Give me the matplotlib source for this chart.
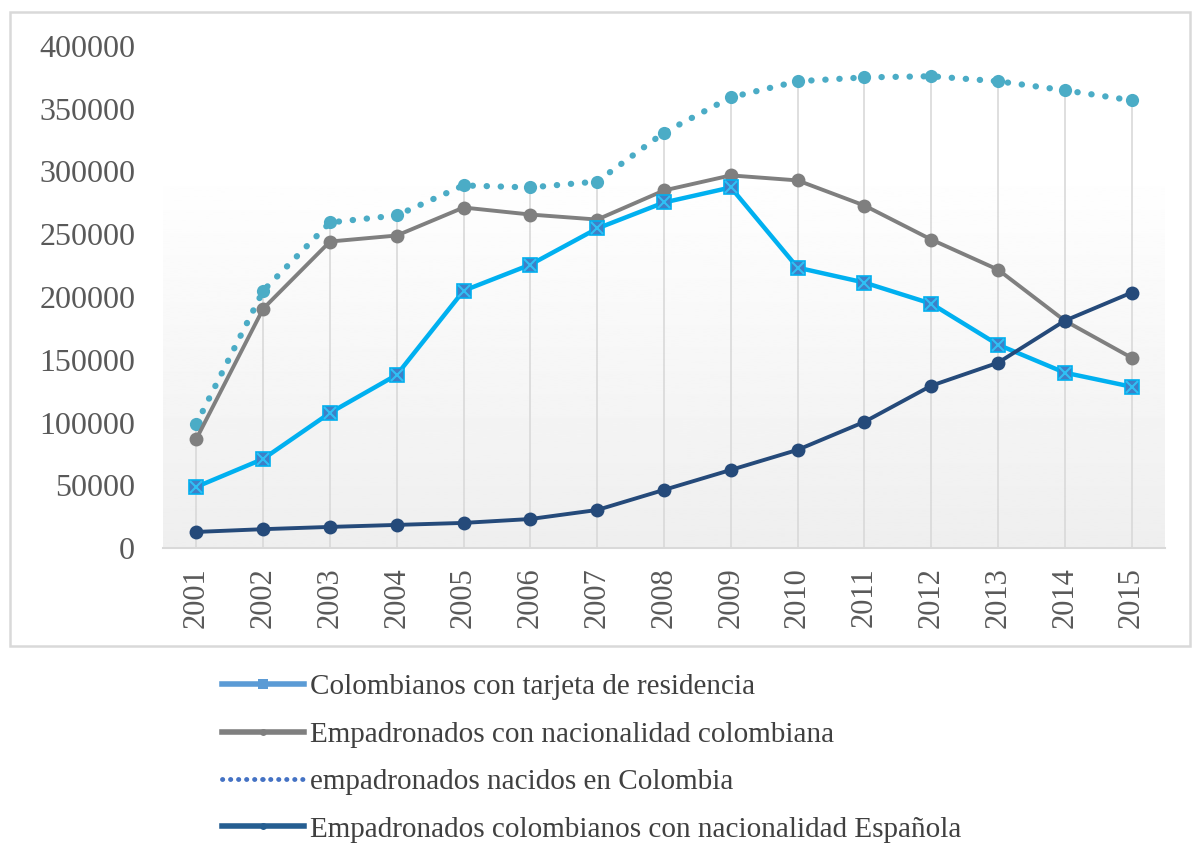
import matplotlib
matplotlib.use('Agg')
import matplotlib.pyplot as plt
import numpy as np
from matplotlib.lines import Line2D
from matplotlib.patches import Rectangle

plt.rcParams['font.family'] = ['Liberation Serif', 'DejaVu Serif']

# ------------------------------------------------------------------
years = ['2001', '2002', '2003', '2004', '2005', '2006', '2007', '2008',
         '2009', '2010', '2011', '2012', '2013', '2014', '2015']

tarjeta = [48700, 71000, 107700, 138000, 205000, 225800, 254600, 275300,
           287300, 223400, 211500, 194700, 162000, 139700, 128500]
nac_colombiana = [87000, 190700, 244200, 249000, 271300, 265700, 261700, 284900,
                  296900, 292900, 272900, 245800, 221800, 181100, 151600]
nacidos_colombia = [99000, 205000, 259400, 265000, 288900, 287300, 292000, 331000,
                    359100, 371900, 375000, 375900, 371900, 364700, 356700]
nac_espanola = [12800, 15000, 16800, 18400, 20000, 23100, 30300, 46300,
                62200, 78200, 100500, 129300, 147600, 181100, 203500]

labels = ['Colombianos con tarjeta de residencia',
          'Empadronados con nacionalidad colombiana',
          'empadronados nacidos en Colombia',
          'Empadronados colombianos con nacionalidad Española']

y_ticks = [0, 50000, 100000, 150000, 200000, 250000, 300000, 350000, 400000]

# ------------------------------------------------------------------
fig = plt.figure(figsize=(11.94, 8.51), dpi=100)
ax = fig.add_axes([163 / 1194, 1 - 548 / 851, 1002 / 1194, 502 / 851])

x = np.arange(len(years))

# fondo degradado del area de trazado
grad = np.concatenate([np.ones(60), np.linspace(1.0, 0.935, 196)]).reshape(-1, 1)
ax.imshow(grad, extent=[0, 1, 0, 1], transform=ax.transAxes, aspect='auto',
          cmap='gray', vmin=0, vmax=1, zorder=0, origin='upper')

# lineas de caida
tops = np.max([tarjeta, nac_colombiana, nacidos_colombia, nac_espanola], axis=0)
ax.vlines(x, 0, tops, color='#d9d9d9', linewidth=1.2, zorder=1)

ax.plot(x, nacidos_colombia, color='#4bacc6', linestyle=(0, (0.05, 2.2)),
        linewidth=4.5, dash_capstyle='round', marker='o', markersize=9.5,
        markeredgewidth=0, zorder=2)
ax.plot(x, nac_colombiana, color='#7f7f7f', linewidth=2.8, marker='o',
        markersize=10, markeredgewidth=0, zorder=3)
ax.plot(x, tarjeta, color='#00b0f0', linewidth=3.2, marker='s', markersize=10,
        markerfacecolor='#3f7fc6', markeredgecolor='#00b0f0',
        markeredgewidth=1.2, zorder=4)
ax.plot(x, tarjeta, linestyle='none', marker='x', markersize=9,
        markeredgecolor='#2fc0f5', markeredgewidth=1.5, zorder=4)
ax.plot(x, nac_espanola, color='#254a7a', linewidth=2.8, marker='o',
        markersize=10, markeredgewidth=0, zorder=5)

ax.set_xlim(-0.5, len(years) - 0.5)
ax.set_ylim(0, 400000)
ax.set_yticks(y_ticks)
ax.set_yticklabels([str(v) for v in y_ticks])
ax.set_xticks(x)
ax.set_xticklabels(years, rotation=90)
ax.tick_params(axis='y', length=0, pad=20, labelsize=23, labelcolor='#595959')
ax.tick_params(axis='x', length=0, pad=14, labelsize=22, labelcolor='#595959')

for s in ['top', 'right', 'left']:
    ax.spines[s].set_visible(False)
ax.spines['bottom'].set_color('#d9d9d9')
ax.spines['bottom'].set_linewidth(1.5)
ax.spines['bottom'].set_zorder(1)

# marco del grafico
fig.patches.append(Rectangle((10 / 1194, 1 - 646 / 851), 1180 / 1194, 634 / 851,
                             transform=fig.transFigure, fill=False,
                             edgecolor='#d9d9d9', linewidth=1.8))

# leyenda
handles = [
    Line2D([], [], color='#5b9bd5', linewidth=4, marker='s', markersize=7,
           markeredgewidth=0),
    Line2D([], [], color='#7f7f7f', linewidth=4, marker='o', markersize=5,
           markeredgewidth=0),
    Line2D([], [], color='#4472c4', linewidth=3.5, linestyle=(0, (0.05, 1.6)),
           dash_capstyle='round', marker='o', markersize=3, markeredgewidth=0),
    Line2D([], [], color='#255e91', linewidth=4, marker='o', markersize=5,
           markeredgewidth=0),
]
fig.legend(handles, labels, loc='upper left',
           bbox_to_anchor=(222 / 1194, 1 - 674 / 851),
           frameon=False, fontsize=21, labelcolor='#404040',
           handlelength=2.8, handletextpad=0.22, labelspacing=0.72,
           borderpad=0, borderaxespad=0, numpoints=1)

fig.savefig('out.png', dpi=100, facecolor='white')
